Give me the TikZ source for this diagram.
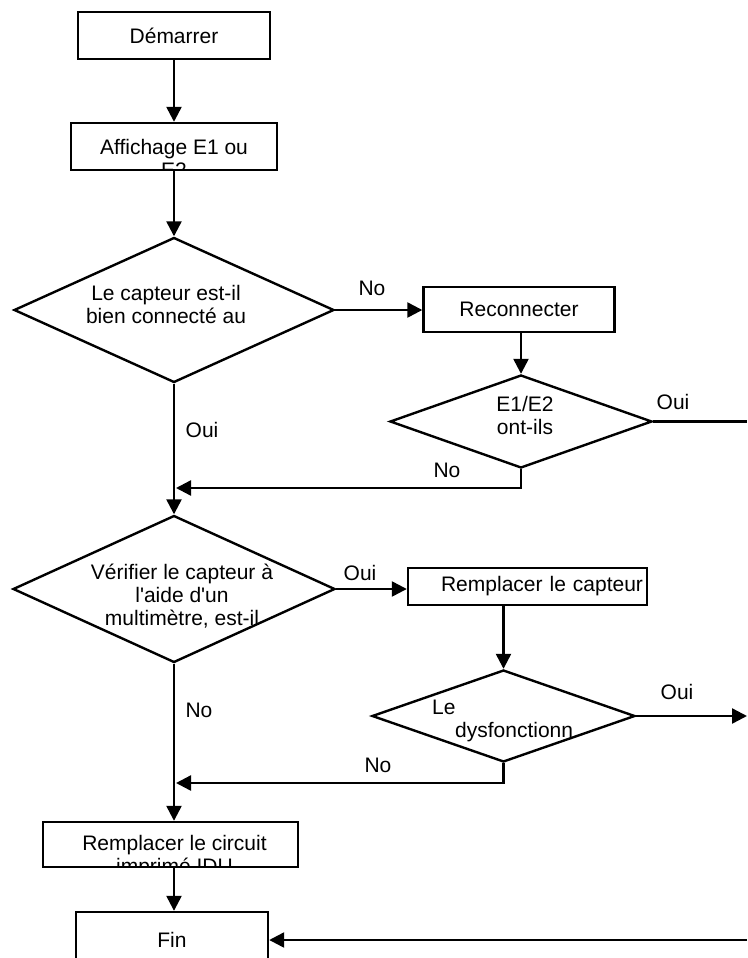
\documentclass[tikz,border=0pt]{standalone}
\usepackage{fontspec}
\setmainfont{Liberation Sans}
\usetikzlibrary{shapes.geometric,arrows.meta}
\tikzset{
  boite/.style={draw, line width=2.4pt, inner sep=0pt, font=\fontsize{21}{22}\selectfont},
  losange/.style={diamond, draw, line width=2.4pt, inner sep=0pt},
  texte/.style={inner sep=0pt, align=center, font=\fontsize{21}{23}\selectfont},
  fleche/.style={line width=2.4pt, -{Triangle[length=15pt,width=15pt]}},
  trait/.style={line width=2.4pt}
}
\begin{document}
\begin{tikzpicture}[x=1pt,y=-1pt]
  \useasboundingbox (0,0) rectangle (747,958);
  % Boites
  \node[boite, minimum width=192pt, minimum height=47pt] (demarrer) at (174,35.5) {Démarrer};
  \node[boite, minimum width=206pt, minimum height=47pt,
    path picture={\node[texte] (affichagetxt) at ([yshift=-11.5pt]path picture bounding box.center) {Affichage E1 ou\\E2};}] (affichage) at (174,146.5) {};
  \node[boite, minimum width=191pt, minimum height=45pt] (reconnecter) at (519,309.5) {Reconnecter};
  \node[boite, minimum width=239pt, minimum height=37pt, text width=231pt, align=right] (capteur) at (527.5,586.5) {Remplacer le capteur};
  \node[boite, minimum width=255pt, minimum height=45pt,
    path picture={\node[texte] (circuittxt) at ([xshift=4pt,yshift=-12pt]path picture bounding box.center) {Remplacer le circuit\\imprimé IDU};}] (circuit) at (170.5,844.5) {};
  \node[boite, minimum width=192pt, minimum height=56pt] (fin) at (172,940) {Fin};

  % Losanges
  \node[losange, minimum width=320pt, minimum height=145pt] (q1) at (174,310) {};
  \node[texte] (q1txt) at (166,304) {Le capteur est-il\\bien connecté au};
  \node[losange, minimum width=262pt, minimum height=93pt] (q2) at (521,421.5) {};
  \node[texte] (q2txt) at (525,415) {E1/E2\\ont-ils};
  \node[losange, minimum width=322pt, minimum height=147pt] (q3) at (174,589) {};
  \node[texte] (q3txt) at (182,596) {Vérifier le capteur à\\l\textquotesingle aide d\textquotesingle un\\multimètre, est-il};
  \node[losange, minimum width=263pt, minimum height=92pt] (q4) at (503.5,716) {};
  \node[texte, align=left, anchor=north west] (q4txt) at (432,700) {Le\\\hspace*{23pt}dysfonctionn};

  % Points de sortie et de jonction
  \coordinate (j1) at (176,488);
  \coordinate (j2) at (176,783);
  \coordinate (sortie1) at (747,421.5);
  \coordinate (sortie2) at (747,716);
  \coordinate (retour) at (747,940);

  % Fleches
  \draw[fleche] (demarrer) -- (affichage);
  \draw[fleche] (affichage) -- (q1);
  \draw[fleche] (q1.east) -- (q1.east -| reconnecter.west);
  \draw[fleche] (q2.north |- reconnecter.south) -- (q2.north);
  \draw[trait] (q2.east) -- (sortie1);
  \draw[fleche] (q2.south) |- (j1);
  \draw[fleche] (q1.south) -- (q3.north);
  \draw[fleche] (q3.east) -- (q3.east -| capteur.west);
  \draw[fleche] (q4.north |- capteur.south) -- (q4.north);
  \draw[fleche] (q4.east) -- (sortie2);
  \draw[fleche] (q4.south) |- (j2);
  \draw[fleche] (q3.south) -- (q3.south |- circuit.north);
  \draw[fleche] (q3.south |- circuit.south) -- (q3.south |- fin.north);
  \draw[fleche] (retour) -- (retour -| fin.east);

  % Etiquettes
  \node[texte] (non1) at (372,288) {No};
  \node[texte] (oui1) at (673,402) {Oui};
  \node[texte] (non2) at (447,470) {No};
  \node[texte] (oui2) at (202,430) {Oui};
  \node[texte] (oui3) at (360,573) {Oui};
  \node[texte] (oui4) at (677,692) {Oui};
  \node[texte] (non3) at (378,765) {No};
  \node[texte] (non4) at (199,710) {No};
\end{tikzpicture}
\end{document}
